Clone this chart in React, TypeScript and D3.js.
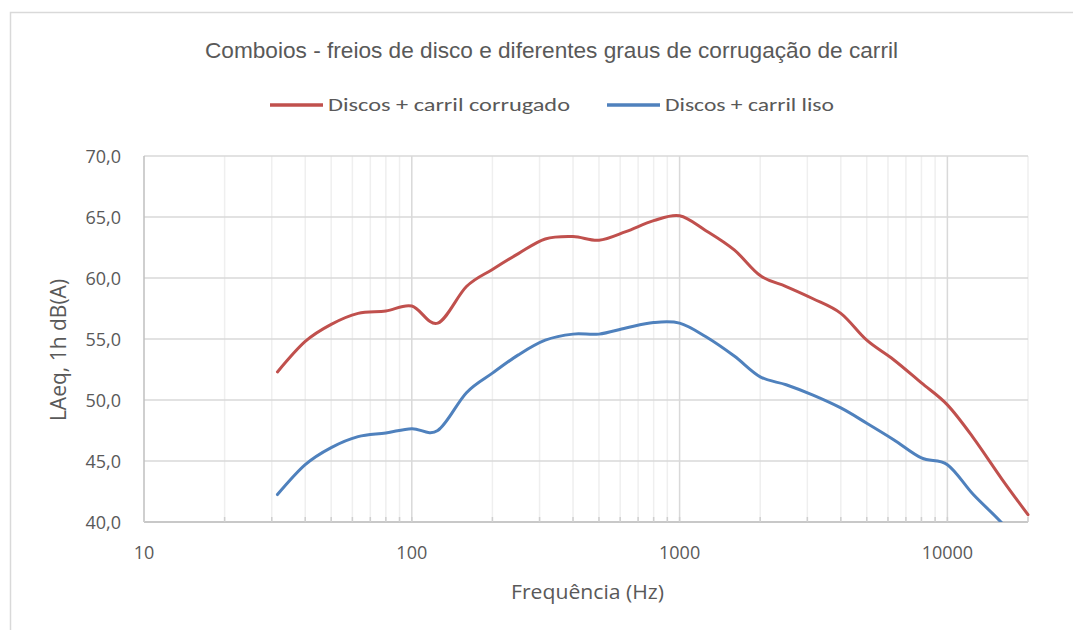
import React from "react";
import * as d3 from "d3";

const freqs = [31.5, 40, 50, 63, 80, 100, 125, 160, 200, 250, 315, 400, 500, 630, 800, 1000, 1250, 1600, 2000, 2500, 3150, 4000, 5000, 6300, 8000, 10000, 12500, 16000, 20000];
const corrugado = [52.3, 54.8, 56.2, 57.1, 57.3, 57.7, 56.3, 59.3, 60.7, 62.0, 63.2, 63.4, 63.1, 63.8, 64.7, 65.1, 63.9, 62.3, 60.2, 59.3, 58.3, 57.1, 54.9, 53.3, 51.4, 49.6, 46.9, 43.5, 40.6];
const liso = [42.25, 44.7, 46.1, 47.0, 47.3, 47.65, 47.5, 50.6, 52.2, 53.7, 54.9, 55.4, 55.4, 55.9, 56.35, 56.3, 55.2, 53.6, 51.9, 51.25, 50.4, 49.35, 48.1, 46.75, 45.25, 44.7, 42.25, 39.9, 37.3];
const yTicks = [40, 45, 50, 55, 60, 65, 70];
const xMajor = [10, 100, 1000, 10000];
const seriesNames = ["Discos + carril corrugado", "Discos + carril liso"];
const title = "Comboios - freios de disco e diferentes  graus de corrugação de carril";
const xTitle = "Frequência (Hz)";
const yTitle = "LAeq, 1h dB(A)";

export default function App() {
  const W = 1073, H = 630;
  const left = 144, right = 1028, top = 156, bottom = 522;
  const x = d3.scaleLog().domain([10, 20000]).range([left, right]);
  const y = d3.scaleLinear().domain([40, 70]).range([bottom, top]);

  const minor: number[] = [];
  for (let dec = 10; dec <= 10000; dec *= 10) {
    for (let k = 2; k <= 9; k++) {
      const v = dec * k;
      if (v <= 20000) minor.push(v);
    }
  }

  const line = d3
    .line<number>()
    .x((_, i) => x(freqs[i]))
    .y((d) => y(d))
    .curve(d3.curveCatmullRom.alpha(0));

  const grey = "#595959";
  const colors = ["#c0504d", "#4f81bd"];
  const tickFont = "'Open Sans', 'DejaVu Sans', sans-serif";

  return (
    <svg width={W} height={H} style={{ position: "absolute", left: 0, top: 0 }}>
      <rect x={0} y={0} width={W} height={H} fill="#fff" />
      <rect x={10.5} y={12.5} width={1200} height={800} fill="#fff" stroke="#d9d9d9" strokeWidth={1.5} />
      <defs>
        <clipPath id="plot">
          <rect x={left} y={top - 2} width={right - left + 2} height={bottom - top + 2} />
        </clipPath>
      </defs>
      {minor.map((v) => (
        <line key={"m" + v} x1={x(v)} x2={x(v)} y1={top} y2={bottom} stroke="#efefef" strokeWidth={1.5} />
      ))}
      {yTicks.map((v) => (
        <line key={"h" + v} x1={left} x2={right} y1={y(v)} y2={y(v)} stroke="#d9d9d9" strokeWidth={1.5} />
      ))}
      {xMajor.slice(1).map((v) => (
        <line key={"M" + v} x1={x(v)} x2={x(v)} y1={top} y2={bottom} stroke="#d9d9d9" strokeWidth={1.5} />
      ))}
      <line x1={left} x2={left} y1={top} y2={bottom} stroke="#bfbfbf" strokeWidth={1.5} />
      <line x1={left} x2={right} y1={bottom} y2={bottom} stroke="#bfbfbf" strokeWidth={1.5} />
      {[...minor, ...xMajor].map((v) => (
        <line key={"t" + v} x1={x(v)} x2={x(v)} y1={bottom - 5} y2={bottom} stroke="#cfcfcf" strokeWidth={1.5} />
      ))}
      {yTicks.map((v) => (
        <text key={"yl" + v} x={121} y={y(v) + 6.5} textAnchor="end" fontFamily={tickFont} fontSize={18} fill={grey}>
          {v.toFixed(1).replace(".", ",")}
        </text>
      ))}
      {xMajor.map((v) => (
        <text key={"xl" + v} x={x(v)} y={559} textAnchor="middle" fontFamily={tickFont} fontSize={18} fill={grey}>
          {String(v)}
        </text>
      ))}
      <g clipPath="url(#plot)">
        {[corrugado, liso].map((s, i) => (
          <path key={"s" + i} d={line(s) || ""} fill="none" stroke={colors[i]} strokeWidth={3} strokeLinecap="round" />
        ))}
      </g>
      <text x={205} y={58} fontFamily="'Liberation Sans Narrow', 'Arial Narrow', 'Liberation Sans', sans-serif" fontSize={22.5} fill={grey} textLength={693} lengthAdjust="spacingAndGlyphs">
        {title}
      </text>
      <line x1={270} x2={323} y1={105} y2={105} stroke={colors[0]} strokeWidth={3.5} />
      <text x={328} y={111} fontFamily="Carlito, Lato, 'Open Sans', sans-serif" fontSize={19} fill={grey} textLength={242} lengthAdjust="spacingAndGlyphs">
        {seriesNames[0]}
      </text>
      <line x1={607} x2={660} y1={105} y2={105} stroke={colors[1]} strokeWidth={3.5} />
      <text x={665} y={111} fontFamily="Carlito, Lato, 'Open Sans', sans-serif" fontSize={19} fill={grey} textLength={169} lengthAdjust="spacingAndGlyphs">
        {seriesNames[1]}
      </text>
      <text x={511} y={599} fontFamily={tickFont} fontSize={20} fill={grey} textLength={153} lengthAdjust="spacingAndGlyphs">
        {xTitle}
      </text>
      <text transform="translate(66,350) rotate(-90)" textAnchor="middle" fontFamily={tickFont} fontSize={21} fill={grey}>
        {yTitle}
      </text>
    </svg>
  );
}
